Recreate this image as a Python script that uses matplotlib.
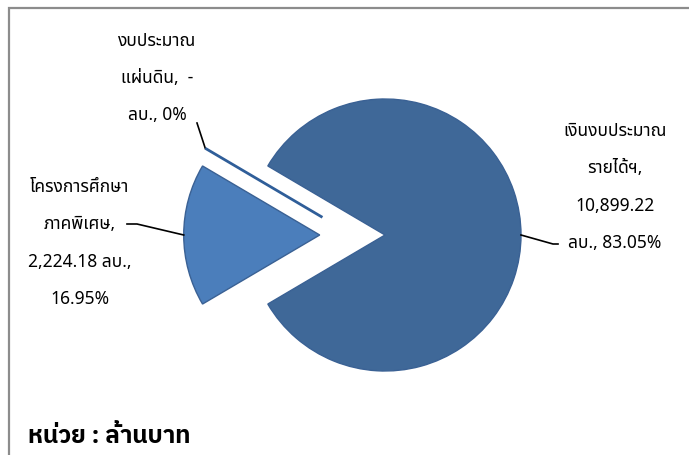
import numpy as np
import matplotlib
matplotlib.use("Agg")
import matplotlib.pyplot as plt
from matplotlib.patches import Rectangle

plt.rcParams["font.family"] = ["Noto Sans Thai", "Noto Sans", "DejaVu Sans"]

# data (million baht)
names = ["เงินงบประมาณ\nรายได้ฯ,", "งบประมาณ\nแผ่นดิน,", "โครงการศึกษา\nภาคพิเศษ,"]
values = [10899.22, 0.0, 2224.18]
value_text = ["10,899.22\nลบ., 83.05%", "  -\nลบ., 0%", "2,224.18 ลบ.,\n16.95%"]
colors = ["#3F6898", "#4A7EBB", "#4B7EBB"]

W, H = 689, 456
R = 136.0          # pie radius in px
cx, cy = 385, 220  # pie centre in px (from bottom-left)

fig = plt.figure(figsize=(W / 100, H / 100), dpi=100)
ax = fig.add_axes([0, 0, 1, 1])

total = sum(values)
small_deg = values[2] / total * 360
wedges, _ = ax.pie(values, colors=colors, startangle=180 + small_deg / 2,
                   explode=[0, 0.48, 0.48], counterclock=True,
                   wedgeprops=dict(edgecolor="#3A6194", linewidth=1.0))

# the empty slice is drawn as a line, pulled out just above the small slice
zc = wedges[2].center
wedges[1].set_center((zc[0] + 0.02, zc[1] + 0.13))
wedges[1].set_edgecolor("#2F5E99")
wedges[1].set_linewidth(2.0)
wedges[1].set_zorder(3)

ax.set_xlim(-cx / R, (W - cx) / R)
ax.set_ylim(-cy / R, (H - cy) / R)
ax.axis("off")

def px(x, y):
    return ((x - cx) / R, (H - y - cy) / R)

def edge_point(w, a_deg):
    a = np.deg2rad(a_deg)
    x0, y0 = w.center
    return x0 + w.r * np.cos(a), y0 + w.r * np.sin(a)

# leader lines
bx, by = edge_point(wedges[0], (wedges[0].theta1 + wedges[0].theta2) / 2)
k1 = px(553, 245); k2 = px(558, 245)
ax.plot([bx, k1[0], k2[0]], [by, k1[1], k2[1]], color="black", lw=1.2)

sx, sy = edge_point(wedges[2], (wedges[2].theta1 + wedges[2].theta2) / 2)
k1 = px(137, 225); k2 = px(127, 225)
ax.plot([sx, k1[0], k2[0]], [sy, k1[1], k2[1]], color="black", lw=1.2)

zx, zy = edge_point(wedges[1], wedges[1].theta1)
k1 = px(197, 124)
ax.plot([zx, k1[0]], [zy, k1[1]], color="black", lw=1.2)

fs = 12.5
ls = 2.36
lab = dict(fontsize=fs, ha="center", va="center", linespacing=ls, color="#000000")
ax.text(*px(615, 187), names[0] + "\n" + value_text[0], **lab)
ax.text(*px(157, 78), names[1] + value_text[1], **lab)
ax.text(*px(80, 243), names[2] + "\n" + value_text[2], **lab)

fig.text(28 / W, 1 - 437 / H, "หน่วย : ล้านบาท", fontsize=17.5, fontweight="bold",
         ha="left", va="center", family=["IBM Plex Sans Thai", "Noto Sans", "DejaVu Sans"])

fig.add_artist(Rectangle((9 / W, -0.05), 1.0, 1 - 9 / H + 0.05, transform=fig.transFigure,
                         fill=False, edgecolor="#8C8C8C", linewidth=1.6))

fig.savefig("out.png", dpi=100)
